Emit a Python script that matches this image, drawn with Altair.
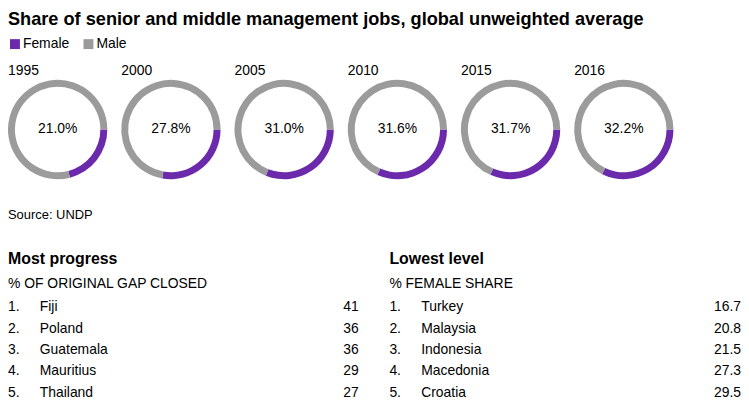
import math
import altair as alt
import pandas as pd

# ---------------- data ----------------
years = ["1995", "2000", "2005", "2010", "2015", "2016"]
female_share = [21.0, 27.8, 31.0, 31.6, 31.7, 32.2]
male_share = [79.0, 72.2, 69.0, 68.4, 68.3, 67.8]

ranks = ["1.", "2.", "3.", "4.", "5."]
progress_countries = ["Fiji", "Poland", "Guatemala", "Mauritius", "Thailand"]
progress_values = [41, 36, 36, 29, 27]
lowest_countries = ["Turkey", "Malaysia", "Indonesia", "Macedonia", "Croatia"]
lowest_values = [16.7, 20.8, 21.5, 27.3, 29.5]

title_text = "Share of senior and middle management jobs, global unweighted average"
source_text = "Source: UNDP"

PURPLE = "#6a2aab"
GREY = "#9b9b9b"
FONT = "Liberation Sans"

# ---------------- donuts ----------------
rows = []
for y, f, m in zip(years, female_share, male_share):
    rows.append({"year": y, "sex": "Female", "share": f, "label": f"{f:.1f}%", "o": 0})
    rows.append({"year": y, "sex": "Male", "share": m, "label": "", "o": 1})
donut_df = pd.DataFrame(rows)

arc = alt.Chart().mark_arc(outerRadius=50, innerRadius=43).encode(
    theta=alt.Theta("share:Q", stack=True,
                    scale=alt.Scale(domain=[0, 100], range=[math.pi / 2, math.pi * 2.5])),
    color=alt.Color("sex:N",
                    scale=alt.Scale(domain=["Female", "Male"], range=[PURPLE, GREY]),
                    legend=alt.Legend(title=None, orient="top", direction="horizontal",
                                      symbolType="square", symbolSize=100,
                                      symbolStrokeWidth=0, symbolOpacity=1,
                                      labelFontSize=14, labelFont=FONT, labelColor="black",
                                      labelOffset=1, columnPadding=12, padding=0,
                                      offset=13)),
    order=alt.Order("o:Q"),
)
center = alt.Chart().transform_filter(alt.datum.sex == "Female").mark_text(
    fontSize=14, font=FONT, color="black").encode(text="label:N")

donuts = alt.layer(arc, center, data=donut_df).properties(width=100, height=100).facet(
    column=alt.Column("year:N", header=alt.Header(title=None, labelAnchor="start",
                                                  labelFontSize=14, labelFont=FONT,
                                                  labelColor="black", labelPadding=2)),
    spacing=14,
)

# ---------------- source ----------------
source = alt.Chart(pd.DataFrame({"t": [source_text]})).mark_text(
    align="left", fontSize=13, font=FONT, color="black", dy=0
).encode(text="t:N", x=alt.value(0)).properties(width=100, height=20)


# ---------------- tables ----------------
def table(names, values, fmt, title, subtitle, width):
    df = pd.DataFrame({"rank": ranks, "name": names, "value": values})
    base = alt.Chart(df).encode(y=alt.Y("rank:O", axis=None, sort=None))
    r = base.mark_text(align="left", fontSize=14, font=FONT, color="black").encode(
        x=alt.value(0), text="rank:N")
    n = base.mark_text(align="left", fontSize=14, font=FONT, color="black").encode(
        x=alt.value(32), text="name:N")
    v = base.mark_text(align="right", fontSize=14, font=FONT, color="black").encode(
        x=alt.value(width), text=alt.Text("value:Q", format=fmt))
    return alt.layer(r, n, v).properties(
        width=width, height=108,
        title=alt.TitleParams(text=title, subtitle=subtitle, anchor="start",
                              fontSize=16, fontWeight="bold", font=FONT, color="black",
                              subtitleFontSize=14, subtitleFont=FONT, subtitleColor="black",
                              subtitlePadding=11, offset=5),
    )


left = table(progress_countries, progress_values, "d", "Most progress",
             "% OF ORIGINAL GAP CLOSED", 353)
right = table(lowest_countries, lowest_values, ".1f", "Lowest level",
              "% FEMALE SHARE", 354)
tables = alt.hconcat(left, right, spacing=31)

chart = alt.vconcat(donuts, source, tables, spacing=26).properties(
    title=alt.TitleParams(text=title_text, anchor="start", fontSize=18.3, fontWeight="bold",
                          font=FONT, color="black", offset=8),
    padding=0,
    background="white",
).configure_view(stroke=None)

chart.save("out.html", embed_options={"renderer": "svg", "actions": False})
